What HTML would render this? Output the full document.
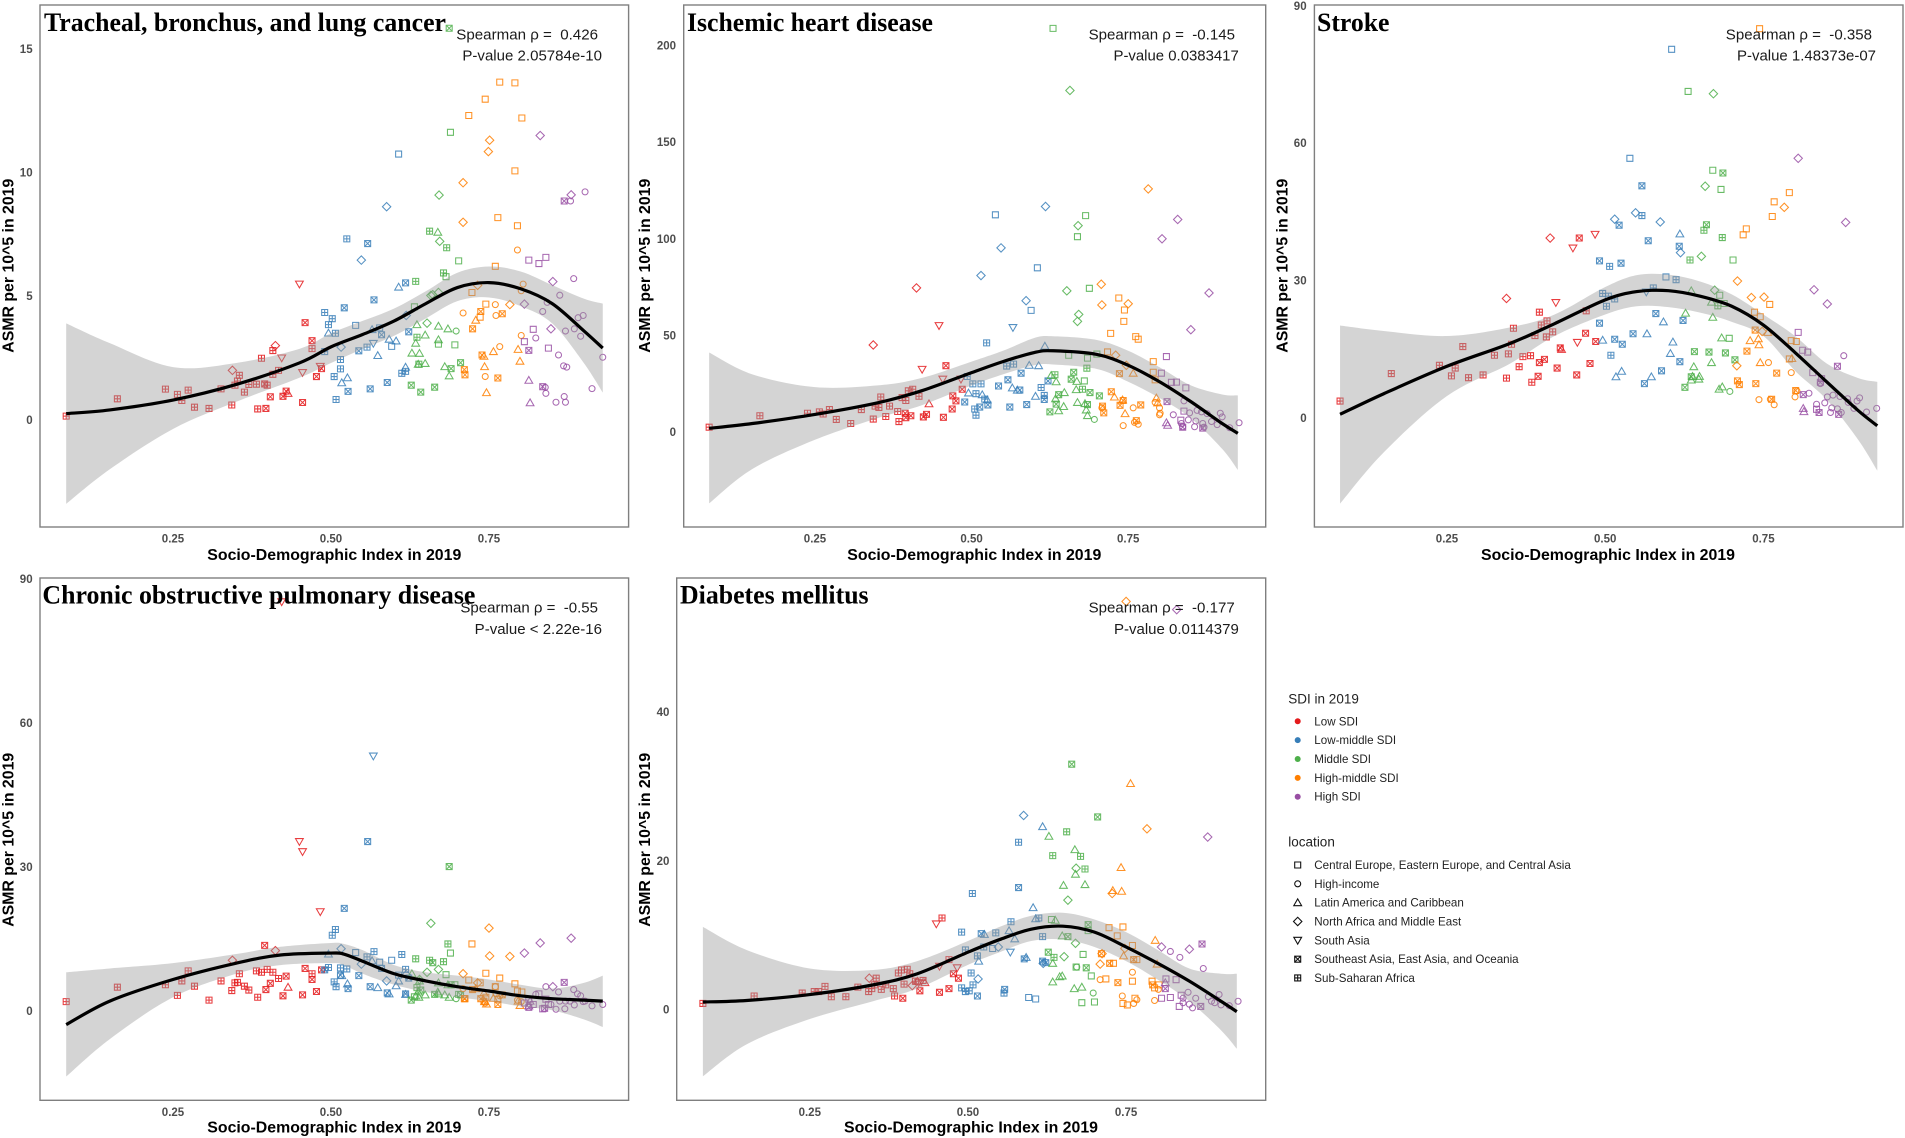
<!DOCTYPE html>
<html lang="en">
<head>
<meta charset="utf-8">
<title>ASMR versus Socio-Demographic Index in 2019</title>
<style>
html,body{margin:0;padding:0;background:#fff;width:1905px;height:1138px;overflow:hidden}
svg{display:block}
text{font-family:"Liberation Sans",Arial,sans-serif}
.title{font-family:"Liberation Serif","Times New Roman",serif;font-weight:bold;font-size:26px;fill:#000}
.ann{font-size:14.5px;fill:#1a1a1a;white-space:pre}
.tick{font-size:11.5px;font-weight:bold;fill:#4d4d4d}
.axis{font-size:15.5px;font-weight:bold;fill:#000}
.lt{font-size:13.5px;fill:#222}
.li{font-size:11.6px;fill:#222}
</style>
</head>
<body>
<svg id="chart" xmlns="http://www.w3.org/2000/svg" width="1905" height="1138" viewBox="0 0 1905 1138"></svg>
<script>
const S="s",C="c",T="t",D="d",V="v",X="x",P="p";
const xTickValues=[0.25,0.5,0.75];
const xTickLabels=["0.25","0.50","0.75"];
const sdiLevels=["Low SDI","Low-middle SDI","Middle SDI","High-middle SDI","High SDI"];
const locations=["Central Europe, Eastern Europe, and Central Asia","High-income","Latin America and Caribbean","North Africa and Middle East","South Asia","Southeast Asia, East Asia, and Oceania","Sub-Saharan Africa"];
const locationShapes=[S,C,T,D,V,X,P];

/* ---- Tracheal, bronchus, and lung cancer ---- */
const lungYTicks=[0,5,10,15];
const lungCurveX=[.081,.15,.25,.35,.45,.5,.55,.6,.65,.7,.75,.8,.85,.9,.93];
const lungFit=[.25,.4,.8,1.43,2.3,2.95,3.45,4,4.7,5.35,5.55,5.3,4.7,3.6,2.9];
const lungUpper=[3.9,3.1,2.13,2.3,2.87,3.5,4,4.5,5.2,5.95,6.2,6,5.45,4.9,4.7];
const lungLower=[-3.4,-2,-.37,.73,1.7,2.3,2.87,3.4,4.1,4.8,4.95,4.6,3.9,2.3,1.1];
const lungLow=[[P,.081,.15],[P,.162,.85],[P,.238,1.24],[P,.257,1.03],[P,.264,.78],[P,.274,1.2],[P,.284,.51],[P,.307,.46],[P,.326,1.25],[P,.343,.6],[P,.348,1.4],[P,.352,1.57],[P,.355,1.8],[P,.363,1.12],[P,.37,1.43],[P,.382,1.44],[P,.384,.44],[P,.39,2.49],[X,.395,1.45],[X,.397,.46],[P,.399,1.4],[X,.404,.93],[P,.408,1.84],[P,.408,2.8],[P,.417,2],[X,.424,.95],[X,.429,1.16],[X,.455,.7],[X,.459,3.93],[X,.47,3.2],[P,.47,2.88],[X,.477,1.75],[X,.485,2.07],[T,.432,1.07],[D,.344,2],[D,.412,3],[V,.45,5.49],[V,.422,2.5],[V,.455,1.91],[V,.483,2.16]];
const lungLowMid=[[P,.49,4.34],[P,.496,3.85],[P,.502,4.09],[P,.507,3.5],[P,.49,2.76],[P,.505,1.75],[P,.508,.82],[P,.515,2.06],[P,.515,2.44],[X,.521,4.53],[P,.525,7.32],[X,.527,1.15],[X,.544,2.79],[P,.557,2.94],[X,.558,7.13],[X,.562,1.25],[X,.568,4.85],[X,.58,3.44],[X,.589,1.51],[P,.612,1.88],[P,.618,1.96],[X,.618,5.54],[X,.623,3.56],[T,.496,3.51],[T,.517,1.5],[T,.526,1.7],[T,.565,3.65],[T,.574,2.6],[T,.592,3.26],[T,.603,3.19],[T,.607,5.37],[T,.618,2.13],[S,.539,3.82],[S,.577,3.72],[S,.596,2.97],[S,.607,10.75],[D,.516,2.94],[D,.548,6.46],[D,.588,8.62],[D,.619,4.22],[V,.567,3.09]];
const lungMid=[[X,.627,1.4],[P,.634,5.6],[P,.636,3.34],[P,.639,2.25],[X,.642,1.12],[P,.656,7.63],[X,.664,1.32],[P,.678,5.94],[P,.683,6.96],[X,.687,15.84],[X,.69,2.07],[X,.705,2.31],[T,.628,2.7],[T,.634,3.1],[T,.636,3.85],[T,.64,2.69],[T,.638,2.25],[T,.649,2.28],[T,.649,3.43],[T,.669,7.59],[T,.67,3.79],[T,.67,3.24],[T,.685,3.68],[T,.68,2.15],[T,.687,1.78],[S,.632,4.57],[S,.67,3.06],[S,.682,5.79],[S,.689,11.63],[S,.696,3.03],[S,.702,6.43],[D,.652,3.91],[D,.658,5.03],[D,.661,5.06],[D,.67,5.15],[D,.672,7.22],[D,.671,9.09],[C,.698,3.59]];
const lungHighMid=[[S,.718,12.31],[S,.723,5.15],[S,.736,4.15],[S,.745,4.68],[S,.744,12.97],[S,.76,6.21],[S,.764,8.18],[S,.767,13.66],[S,.791,13.63],[S,.791,10.07],[S,.795,7.85],[S,.802,12.21],[X,.711,2.03],[X,.712,1.82],[X,.724,3.68],[X,.737,4.38],[X,.739,2.62],[X,.764,1.69],[X,.771,4.29],[C,.709,4.32],[C,.744,1.75],[C,.76,4.66],[C,.761,4.22],[C,.767,2.96],[C,.795,6.87],[C,.801,5.22],[C,.804,5.49],[C,.801,3.41],[T,.729,4.03],[T,.742,2.57],[T,.743,2.15],[T,.746,1.1],[T,.757,2.76],[T,.796,2.85],[T,.799,2.37],[D,.709,9.59],[D,.709,7.99],[D,.732,5.44],[D,.749,10.85],[D,.751,11.31],[D,.783,4.66]];
const lungHigh=[[S,.806,3.16],[S,.813,6.46],[S,.82,3.66],[S,.829,6.32],[S,.84,6.57],[S,.844,2.9],[X,.813,2.81],[X,.869,8.85],[X,.835,1.34],[T,.813,1.6],[T,.815,.69],[D,.806,4.68],[D,.831,11.5],[D,.848,3.68],[D,.851,5.59],[D,.88,9.1],[C,.824,3.31],[C,.835,4.38],[C,.84,1.07],[C,.839,1.31],[C,.842,4.75],[C,.856,.71],[C,.86,2.62],[C,.862,5.04],[C,.868,2.18],[C,.869,.94],[C,.871,.71],[C,.871,3.59],[C,.873,2.13],[C,.879,8.85],[C,.884,5.71],[C,.885,3.68],[C,.891,4.13],[C,.895,3.38],[C,.899,4.22],[C,.902,9.22],[C,.913,1.26],[C,.93,2.53]];

/* ---- Ischemic heart disease ---- */
const ihdYTicks=[0,50,100,150,200];
const ihdCurveX=[.081,.15,.25,.35,.42,.5,.55,.6,.63,.7,.75,.8,.85,.9,.925];
const ihdFit=[2,4.5,9.2,15.2,21.4,30.8,36.5,41.2,42.1,40.2,34.6,26.1,15.8,4.5,-.6];
const ihdUpper=[41.2,29.9,23.3,24.2,28,36.5,42.1,48.7,49.6,47.7,42.1,33.6,24.2,19.5,19];
const ihdLower=[-36.8,-19,-3.9,7.3,13.9,24.2,29.9,34.6,35,32.7,26.1,17.7,7.3,-8.6,-19.5];
const ihdLow=[[P,.081,2.6],[P,.162,8.5],[P,.238,9.8],[P,.257,10.5],[P,.263,9.4],[P,.273,11.7],[P,.284,6.6],[P,.307,4.5],[P,.324,11.7],[P,.343,6.8],[P,.346,13.5],[P,.352,12.8],[P,.355,18.2],[P,.363,8.1],[P,.369,13.5],[P,.382,10.7],[P,.384,5.5],[P,.389,17.9],[X,.394,9.8],[X,.395,7.5],[P,.395,16.4],[P,.399,21.4],[X,.403,8.5],[P,.406,22.2],[P,.416,18.6],[X,.423,7.9],[X,.428,9.2],[X,.455,7.7],[X,.459,34.4],[X,.47,18.8],[X,.469,12],[X,.475,16.2],[X,.485,22.2],[T,.432,14.7],[D,.343,45.1],[D,.412,74.6],[V,.448,55.1],[V,.421,32.5],[V,.454,27.4],[V,.483,27.4]];
const ihdLowMid=[[X,.489,15.6],[P,.493,28.8],[P,.502,25],[P,.505,12],[P,.507,19.9],[P,.507,8.8],[X,.513,13],[P,.515,25],[P,.521,17.1],[P,.524,46.2],[X,.526,14.1],[X,.543,23.9],[P,.556,34.2],[X,.558,27.1],[X,.561,13],[P,.567,35.2],[X,.577,21.8],[X,.579,30.5],[X,.588,14.3],[P,.611,23.1],[P,.616,19],[X,.616,16.9],[X,.622,26.5],[T,.495,20.3],[T,.517,19.4],[T,.525,16.7],[T,.565,22.9],[T,.573,21.8],[T,.592,34.6],[T,.602,18.6],[T,.607,34.4],[T,.617,44.5],[S,.538,112.4],[S,.595,63],[S,.605,85],[D,.515,81],[D,.547,95.3],[D,.587,68],[D,.618,116.7],[V,.566,54.1]];
const ihdMid=[[X,.625,10.5],[P,.633,29.7],[X,.635,14.5],[X,.639,19.4],[X,.659,27.4],[X,.663,31],[P,.677,22.2],[P,.684,33.1],[X,.685,14.3],[X,.689,20.5],[X,.704,18.8],[S,.63,208.8],[T,.627,29.3],[T,.634,17.3],[T,.635,26.1],[T,.639,11.1],[T,.647,13.3],[T,.648,20.5],[T,.667,22],[T,.669,15.4],[T,.668,26.3],[T,.681,14.8],[T,.683,11.5],[T,.685,8.6],[S,.669,101.1],[S,.68,26.5],[S,.682,112],[S,.688,74.4],[S,.655,39.8],[S,.685,38.3],[S,.7,40.4],[D,.652,73.1],[D,.67,106.8],[D,.671,60.9],[D,.669,57.3],[D,.657,176.7],[C,.696,6.6]];
const ihdHighMid=[[S,.717,41.5],[S,.722,51.1],[S,.735,69.4],[S,.744,63.2],[S,.743,57.3],[S,.762,49.4],[S,.766,48.1],[S,.79,36.5],[S,.79,31],[S,.793,27.1],[X,.709,13.5],[X,.711,10],[X,.723,20.9],[X,.736,30.3],[X,.737,13.9],[X,.742,16.4],[X,.763,6],[X,.77,14.1],[C,.708,12.6],[C,.742,3.4],[C,.758,12.6],[C,.76,5.1],[C,.766,4.1],[C,.793,15.4],[C,.8,12.6],[C,.8,9],[C,.801,9.8],[T,.728,18.2],[T,.741,16.7],[T,.745,9.6],[T,.758,30.5],[T,.795,17.7],[T,.797,15.2],[D,.707,76.5],[D,.708,65.8],[D,.73,39.8],[D,.747,34.6],[D,.75,66.4],[D,.782,125.8]];
const ihdHigh=[[S,.803,30.5],[S,.811,39.1],[S,.819,25.8],[S,.827,25.9],[S,.842,22.9],[S,.839,10.9],[S,.834,6.2],[X,.812,15.8],[X,.837,2.6],[X,.869,2.1],[T,.811,4.9],[T,.813,3.6],[D,.804,100],[D,.829,110],[D,.85,53],[D,.879,72],[C,.822,9],[C,.839,16.2],[C,.846,6.4],[C,.848,10],[C,.856,2.8],[C,.858,5.8],[C,.86,11.3],[C,.867,10.5],[C,.869,4.5],[C,.871,2.6],[C,.876,9.6],[C,.883,5.5],[C,.892,3.9],[C,.897,9.8],[C,.9,7.9],[C,.912,2.3],[C,.927,4.9],[C,.835,4.5],[C,.837,2.8]];

/* ---- Stroke ---- */
const strokeYTicks=[0,30,60,90];
const strokeCurveX=[.081,.15,.25,.35,.42,.5,.55,.6,.65,.7,.75,.8,.85,.9,.93];
const strokeFit=[.8,5.3,11.3,16.3,20.6,25.8,27.6,27.8,26.6,24.4,20.3,14.3,7.9,1.6,-1.7];
const strokeUpper=[20.2,19,17.9,19.8,22.6,28.6,31.2,31.3,29.8,27,22.6,17.9,11.9,8.7,7.9];
const strokeLower=[-18.7,-7.5,4.8,11.9,17.9,22.6,24.4,24.2,23,21,17.9,10.3,4,-4.8,-11.5];
const strokeLow=[[P,.081,3.7],[P,.162,9.7],[P,.238,11.5],[P,.257,9.2],[P,.263,10.9],[P,.275,15.6],[P,.284,8.8],[P,.307,9.4],[P,.325,13.7],[P,.344,8.7],[P,.347,14],[P,.352,16.1],[P,.355,19.6],[P,.364,11.2],[P,.37,13.4],[P,.382,13.6],[P,.384,7.8],[P,.389,18],[X,.394,9.1],[P,.396,23.1],[X,.396,12.1],[P,.399,20.3],[X,.404,12.8],[P,.408,21.2],[P,.407,17.7],[P,.417,18.8],[X,.424,10.9],[X,.429,15.3],[X,.455,9.4],[X,.459,39.3],[X,.469,18.5],[P,.47,23.4],[X,.476,11.9],[X,.485,16.7],[T,.431,15],[D,.344,26.1],[D,.413,39.3],[V,.449,37.1],[V,.484,40.1],[V,.422,25.2],[V,.456,16.5]];
const strokeLowMid=[[X,.491,20.7],[X,.491,34.3],[P,.496,27.2],[P,.502,24.4],[P,.507,33.1],[P,.505,26.6],[P,.509,13.7],[P,.515,26],[X,.515,17.2],[X,.522,42.1],[X,.525,33.8],[X,.527,16.1],[X,.544,18.4],[P,.558,44.2],[X,.558,50.7],[X,.562,7.5],[X,.568,38.7],[P,.576,28.4],[X,.58,22.8],[X,.589,10.3],[P,.612,30.2],[X,.617,37.5],[X,.618,12.3],[X,.623,21.3],[T,.496,17],[T,.517,9],[T,.526,10.2],[T,.566,18.4],[T,.573,9],[T,.592,21],[T,.603,14.1],[T,.607,16.6],[T,.618,40.2],[S,.539,56.7],[S,.596,30.8],[S,.605,80.5],[D,.515,43.4],[D,.548,44.8],[D,.587,42.8],[D,.619,36.1],[V,.565,27.5]];
const strokeMid=[[X,.626,6.7],[P,.634,34.5],[X,.641,14.5],[X,.636,9],[P,.656,41],[X,.66,42.2],[X,.664,14.4],[P,.678,24.5],[P,.685,39.4],[X,.686,53.5],[X,.69,14.2],[X,.705,12.7],[T,.627,22.9],[T,.636,8.3],[T,.636,27.8],[T,.64,11.2],[T,.638,9.1],[T,.648,8.5],[T,.649,9.1],[T,.668,25.3],[T,.67,22],[T,.668,12.1],[T,.68,6.3],[T,.684,17.5],[T,.685,6.8],[S,.631,71.3],[S,.67,54.1],[S,.681,26.8],[S,.683,49.9],[S,.688,25],[S,.696,17.4],[S,.702,34.5],[D,.652,35.3],[D,.658,50.6],[D,.671,70.8],[D,.673,27.9],[C,.697,5.8]];
const strokeHighMid=[[S,.718,40],[S,.723,41.3],[S,.736,23.1],[S,.745,22.1],[S,.744,85],[S,.76,24.8],[S,.764,44],[S,.767,47.2],[S,.791,49.2],[S,.791,12.9],[S,.794,16.9],[S,.802,16.7],[X,.709,8.1],[X,.712,7.3],[X,.724,14.6],[X,.737,19.2],[X,.738,7.5],[X,.763,4.1],[X,.771,9.8],[X,.801,6],[C,.743,4],[C,.758,12.1],[C,.761,4.1],[C,.767,2.9],[C,.794,9.9],[C,.8,4.6],[C,.803,5.9],[T,.729,16.9],[T,.742,17.3],[T,.743,16],[T,.745,12.1],[T,.757,18.7],[T,.795,13],[D,.709,29.9],[D,.708,11.4],[D,.731,26.3],[D,.748,18.9],[D,.751,26.4],[D,.783,46]];
const strokeHigh=[[S,.805,18.7],[S,.812,14.8],[S,.82,14.4],[S,.828,9.9],[S,.842,8.6],[S,.834,1.9],[X,.813,5.1],[X,.867,11.3],[X,.84,7.8],[X,.838,1.2],[X,.869,.8],[T,.813,2.1],[T,.814,1.4],[D,.805,56.7],[D,.83,28],[D,.851,24.9],[D,.88,42.7],[C,.822,5.4],[C,.834,3],[C,.84,7.5],[C,.847,3.3],[C,.851,4.6],[C,.856,1.2],[C,.858,2.2],[C,.86,5],[C,.867,2],[C,.871,4.7],[C,.873,1.2],[C,.877,13.6],[C,.883,4.2],[C,.884,3.4],[C,.893,2.1],[C,.898,3.7],[C,.902,4.4],[C,.913,1.3],[C,.929,2.1]];

/* ---- Chronic obstructive pulmonary disease ---- */
const copdYTicks=[0,30,60,90];
const copdCurveX=[.081,.15,.25,.35,.42,.5,.52,.55,.6,.65,.7,.75,.8,.85,.9,.93];
const copdFit=[-2.8,2.1,6.6,10,11.7,12.1,11.9,10.4,7.8,6.3,5.1,4.2,3.2,2.6,2.3,2.1];
const copdUpper=[8.1,8.9,10,11.9,13.4,14.2,14,12.7,9.6,8.1,7.4,6.6,5.5,4.7,5.9,7.4];
const copdLower=[-13.6,-5.8,2.9,7.8,9.6,10,9.6,7.8,5.5,4,2.9,2.1,1,.2,-1.7,-3.3];
const copdLow=[[P,.081,2],[P,.162,5],[P,.238,5.5],[P,.257,3.3],[P,.264,6.3],[P,.274,8.4],[P,.284,5.2],[P,.307,2.3],[P,.326,6.3],[P,.343,4.3],[P,.348,5.9],[P,.352,6],[P,.355,7.8],[P,.363,5.2],[P,.37,4.4],[P,.382,8.4],[P,.384,2.9],[P,.39,8.1],[X,.395,13.7],[X,.397,4.5],[P,.399,8.7],[X,.404,5.8],[P,.408,8.1],[P,.417,6.8],[X,.424,3.2],[X,.429,7.3],[X,.455,3.4],[X,.459,8.9],[X,.47,6.6],[P,.47,7.8],[X,.477,4.1],[X,.485,8.6],[T,.432,5],[D,.344,10.6],[D,.412,12.6],[V,.45,35.3],[V,.455,33.2],[V,.483,20.7],[V,.422,85.2]];
const copdLowMid=[[X,.49,8.6],[P,.496,9.1],[P,.502,15.8],[P,.507,17],[P,.505,6.1],[P,.508,5.1],[X,.515,7.5],[P,.515,9],[X,.521,21.4],[P,.525,8.8],[X,.527,4.7],[X,.544,7.4],[P,.557,11.3],[X,.558,35.3],[X,.562,5.1],[P,.568,12.4],[X,.58,8.9],[X,.589,3.8],[P,.612,11.8],[P,.618,8.7],[X,.618,3.6],[X,.623,6.9],[T,.496,11.9],[T,.517,7.4],[T,.526,5.7],[T,.565,10.5],[T,.574,4.9],[T,.592,3.6],[T,.603,5.3],[T,.607,6.3],[T,.618,3.5],[S,.539,12.2],[S,.577,10.2],[S,.596,10.6],[S,.607,7.5],[D,.516,13],[D,.548,9.8],[D,.588,6.3],[D,.619,7.6],[V,.567,53.1]];
const copdMid=[[X,.627,2.3],[P,.634,10.9],[P,.636,4.9],[X,.642,4.4],[P,.656,10.6],[X,.661,10.1],[X,.664,3.5],[P,.678,10.3],[P,.685,14],[X,.687,30.1],[X,.69,5.5],[X,.705,3.4],[T,.628,7.8],[T,.634,3.2],[T,.638,4],[T,.64,6.3],[T,.639,2.9],[T,.649,3.4],[T,.669,4],[T,.67,5.9],[T,.685,5.5],[T,.68,3.4],[T,.687,2.9],[T,.67,3.6],[S,.632,3],[S,.682,7.6],[S,.689,12.1],[S,.696,5.5],[S,.702,3.5],[D,.652,8.1],[D,.658,18.3],[D,.67,8.7],[D,.64,6.6],[C,.698,2.6]];
const copdHighMid=[[S,.723,14],[S,.736,5.9],[S,.745,7.9],[S,.76,5.1],[S,.767,6.9],[S,.791,5.7],[S,.795,4.2],[S,.802,4],[S,.718,6.5],[S,.745,2.9],[S,.764,2.5],[X,.711,2.6],[X,.712,2.6],[X,.724,4.5],[X,.737,2.6],[X,.742,2.1],[X,.764,1.4],[X,.771,3.4],[C,.709,4.7],[C,.744,1.7],[C,.76,5.1],[C,.761,3.6],[C,.767,3.2],[C,.795,2.3],[C,.801,2],[T,.729,4.7],[T,.742,3.8],[T,.743,2],[T,.746,1.5],[T,.757,2.7],[T,.796,2.1],[T,.799,1.2],[D,.709,7.8],[D,.75,17.3],[D,.751,11.5],[D,.783,11.4],[D,.732,5.9]];
const copdHigh=[[S,.806,1.7],[S,.813,2.5],[S,.82,1.4],[S,.829,3.6],[S,.84,2.5],[S,.844,1.4],[S,.835,.5],[X,.813,.8],[X,.869,6],[X,.838,.6],[T,.813,1.1],[T,.815,2.1],[D,.806,12.1],[D,.831,14.2],[D,.851,5.1],[D,.88,15.2],[C,.824,3.5],[C,.84,5.1],[C,.848,1.4],[C,.856,.4],[C,.86,4],[C,.862,2.1],[C,.87,.5],[C,.871,2.1],[C,.884,4.5],[C,.89,3.6],[C,.895,3.2],[C,.899,2],[C,.902,2.1],[C,.913,1.1],[C,.93,1.4],[C,.878,2.1],[C,.885,1.3]];

/* ---- Diabetes mellitus ---- */
const diabetesYTicks=[0,20,40];
const diabetesCurveX=[.081,.15,.25,.35,.42,.5,.55,.6,.65,.7,.75,.8,.85,.9,.925];
const diabetesFit=[1,1.2,2,3.3,4.8,7.7,9.4,10.8,11.2,10.4,8.4,6.2,3.8,1.1,-.3];
const diabetesUpper=[11.1,8,5.5,5.3,6.5,9.2,11.1,12.6,13,12.1,10.4,8,5.5,4.8,4.8];
const diabetesLower=[-9,-4.7,-1.3,1.1,2.8,6,7.7,9.2,9.4,8.4,6.5,4,1.1,-2.8,-5.3];
const diabetesLow=[[P,.081,.8],[P,.162,1.8],[P,.238,2.2],[P,.257,2.4],[P,.264,2.4],[P,.274,3.1],[P,.284,1.7],[P,.307,1.7],[P,.326,3],[P,.343,2.4],[P,.348,2.8],[P,.352,3.3],[P,.355,4.2],[P,.363,2.7],[P,.37,3.3],[P,.382,2.8],[P,.384,1.8],[P,.39,4.9],[P,.395,5.3],[X,.397,1.5],[P,.399,3.4],[P,.404,5.4],[P,.408,4.8],[P,.417,3.8],[X,.424,2.5],[P,.429,3.9],[X,.455,2.3],[P,.459,12.3],[X,.47,2.8],[P,.47,6.7],[X,.477,4.8],[X,.485,4.2],[T,.432,3.6],[T,.42,3.8],[D,.344,4.2],[D,.412,3.2],[V,.45,11.5],[V,.483,5.6],[V,.455,5.8],[V,.422,3.6]];
const diabetesLowMid=[[P,.49,10.4],[P,.496,8],[P,.502,2.5],[P,.507,15.6],[P,.505,4.9],[P,.508,3.3],[X,.515,1.8],[P,.515,7.2],[X,.521,10.2],[P,.525,8.4],[P,.544,10.3],[P,.557,2.2],[X,.558,2.7],[P,.568,11.8],[P,.58,22.5],[X,.58,16.4],[X,.589,6.8],[P,.612,12.3],[P,.618,9.8],[X,.618,6.5],[X,.623,6.3],[P,.49,2.9],[P,.496,2.4],[T,.517,6.5],[T,.526,10.1],[T,.565,10.6],[T,.574,9.5],[T,.592,7],[T,.603,13.7],[T,.607,12.2],[T,.618,24.6],[S,.539,8.2],[S,.596,1.6],[S,.607,1.4],[D,.516,4.1],[D,.548,8.4],[D,.588,26.1],[D,.619,6.2],[V,.567,7.7]];
const diabetesMid=[[X,.627,7.7],[P,.634,20.7],[P,.636,7],[P,.656,23.9],[X,.658,9.8],[X,.664,33],[P,.678,20.6],[P,.685,18.9],[X,.687,5.6],[X,.69,11.4],[X,.705,25.9],[T,.628,23.3],[T,.634,3.7],[T,.638,12],[T,.645,4.4],[T,.649,4.5],[T,.651,16.7],[T,.649,9.9],[T,.669,21.5],[T,.67,18.2],[T,.668,2.8],[T,.685,16.8],[T,.68,3],[T,.634,6.2],[S,.632,12.1],[S,.69,10.6],[S,.682,7.4],[S,.695,4.5],[S,.7,1],[S,.68,.9],[S,.671,5.7],[D,.652,7.1],[D,.658,14.7],[D,.67,8.9],[D,.671,19],[C,.698,2.2],[C,.672,5.7]];
const diabetesHighMid=[[S,.723,11],[S,.736,9.9],[S,.745,11.1],[S,.76,8.6],[S,.767,6.7],[S,.791,3.8],[S,.795,2.9],[S,.802,3.3],[S,.718,4.1],[S,.745,.8],[S,.752,.6],[S,.764,1.5],[S,.76,3.8],[S,.73,6.2],[X,.711,7.5],[X,.724,6.2],[X,.737,3.6],[X,.762,6.7],[X,.792,3.3],[C,.709,4],[C,.744,1.8],[C,.76,5],[C,.762,.8],[C,.767,1.3],[C,.795,1.2],[C,.801,2.7],[T,.729,16],[T,.742,19.1],[T,.743,15.9],[T,.746,7.2],[T,.757,30.4],[T,.796,9.3],[T,.799,6.1],[D,.709,6.1],[D,.712,7.5],[D,.728,15.6],[D,.75,54.9],[D,.748,8.2],[D,.783,24.3]];
const diabetesHigh=[[S,.806,1.5],[S,.813,4.1],[S,.82,1.6],[S,.829,4],[S,.837,1.9],[S,.834,.4],[X,.812,2.8],[X,.87,8.8],[X,.868,.4],[T,.812,3.6],[D,.806,8.4],[D,.85,8.1],[D,.879,23.2],[D,.83,53.8],[C,.82,7.8],[C,.835,7],[C,.84,1.5],[C,.848,2.3],[C,.85,.7],[C,.855,.2],[C,.86,1.5],[C,.872,5.5],[C,.88,1.7],[C,.885,1.1],[C,.89,.9],[C,.897,2],[C,.9,.6],[C,.913,.5],[C,.927,1.1],[C,.84,.9]];

const sdiColors=["#E41A1C","#377EB8","#4DAF4A","#FF7F00","#984EA3"];
const glyphs={
 s:"M-3,-3h6v6h-6z",
 c:"M-3,0a3,3 0 1,0 6,0a3,3 0 1,0 -6,0z",
 t:"M0,-3.8L3.9,3L-3.9,3Z",
 d:"M0,-4.2L4.2,0L0,4.2L-4.2,0Z",
 v:"M0,3.8L-3.9,-3L3.9,-3Z",
 x:"M-3,-3h6v6h-6zM-3,-3L3,3M3,-3L-3,3",
 p:"M-3,-3h6v6h-6zM0,-3V3M-3,0H3"
};
const NS="http://www.w3.org/2000/svg";
const root=document.getElementById("chart");
function el(tag,parent,attrs){
  const n=document.createElementNS(NS,tag);
  for(const k in attrs)n.setAttribute(k,attrs[k]);
  parent.appendChild(n);
  return n;
}
function label(parent,cls,x,y,str,anchor,len,rot){
  const attrs={class:cls,x:x,y:y,"text-anchor":anchor||"start"};
  if(len){attrs.textLength=len;attrs.lengthAdjust="spacingAndGlyphs";}
  if(rot)attrs.transform="rotate(-90 "+x+" "+y+")";
  const t=el("text",parent,attrs);
  t.textContent=str;
  return t;
}
function smooth(pts,move){
  let d=(move?"M":"L")+pts[0][0].toFixed(2)+","+pts[0][1].toFixed(2);
  for(let i=0;i<pts.length-1;i++){
    const a=pts[Math.max(i-1,0)],b=pts[i],c=pts[i+1],e=pts[Math.min(i+2,pts.length-1)];
    const c1x=b[0]+(c[0]-a[0])/6,c1y=b[1]+(c[1]-a[1])/6,c2x=c[0]-(e[0]-b[0])/6,c2y=c[1]-(e[1]-b[1])/6;
    d+="C"+c1x.toFixed(2)+","+c1y.toFixed(2)+" "+c2x.toFixed(2)+","+c2y.toFixed(2)+" "+c[0].toFixed(2)+","+c[1].toFixed(2);
  }
  return d;
}
function drawPanel(cfg){
  const g=el("g",root,{});
  
  
  const xs=v=>cfg.x025+(v-.25)*cfg.xUnit;
  const ys=v=>cfg.y0-v*cfg.yUnit;
  const frame=el("rect",g,{x:cfg.l,y:cfg.t,width:cfg.r-cfg.l,height:cfg.b-cfg.t,fill:"none",stroke:"#7f7f7f","stroke-width":1.4});
  
  
  cfg.series.forEach((arr,si)=>{
    arr.forEach(pt=>{
      const m=el("path",g,{d:glyphs[pt[0]],transform:"translate("+xs(pt[1]).toFixed(2)+" "+ys(pt[2]).toFixed(2)+")",fill:"none",stroke:sdiColors[si],"stroke-width":1.05,"stroke-opacity":.85});
      
      
    });
  });
  const up=cfg.curveX.map((v,i)=>[xs(v),ys(cfg.upper[i])]);
  const lo=cfg.curveX.map((v,i)=>[xs(v),ys(cfg.lower[i])]).reverse();
  const band=el("path",g,{d:smooth(up,true)+smooth(lo,false)+"Z",fill:"#999999","fill-opacity":.42});
  
  
  const line=el("path",g,{d:smooth(cfg.curveX.map((v,i)=>[xs(v),ys(cfg.fit[i])]),true),fill:"none",stroke:"#000","stroke-width":3.2,"stroke-linejoin":"round"});
  
  
  xTickValues.forEach((v,i)=>{
    const t=label(g,"tick",xs(v),cfg.xTickY,xTickLabels[i],"middle");
    
    
  });
  cfg.yTicks.forEach(v=>{
    const t=label(g,"tick",cfg.yTickX,ys(v)+4,String(v),"end");
    
    
  });
  const xt=label(g,"axis",cfg.xTitleX,cfg.xTitleY,"Socio-Demographic Index in 2019","middle",254);
  
  
  const yt=label(g,"axis",cfg.yTitleX,cfg.yTitleY,"ASMR per 10^5 in 2019","middle",174,true);
  
  
  const ti=label(g,"title",cfg.titleX,cfg.titleY,cfg.title,"start",cfg.titleW);
  
  
  const a1=label(g,"ann",cfg.a1x,cfg.a1y,cfg.a1,"start",cfg.a1w);
  
  
  const a2=label(g,"ann",cfg.a2x,cfg.a2y,cfg.a2,"start",cfg.a2w);
  
  
}
drawPanel({name:"lung-cancer",title:"Tracheal, bronchus, and lung cancer",titleX:44,titleY:31,titleW:402,
 l:40,r:628.6,t:5,b:527,x025:173,xUnit:632,y0:419.8,yUnit:24.72,yTicks:lungYTicks,xTickY:542.7,yTickX:32.6,
 xTitleX:334.3,xTitleY:559.8,yTitleX:13.5,yTitleY:265.7,
 a1:"Spearman ρ =  0.426",a1x:456.3,a1y:39.3,a1w:141.7,a2:"P-value 2.05784e-10",a2x:462.4,a2y:60.3,a2w:139.6,
 curveX:lungCurveX,fit:lungFit,upper:lungUpper,lower:lungLower,series:[lungLow,lungLowMid,lungMid,lungHighMid,lungHigh]});
drawPanel({name:"ischemic-heart-disease",title:"Ischemic heart disease",titleX:687,titleY:31,titleW:246,
 l:683.7,r:1265.7,t:5,b:527,x025:815,xUnit:626.4,y0:432.2,yUnit:1.934,yTicks:ihdYTicks,xTickY:542.7,yTickX:676,
 xTitleX:974.3,xTitleY:559.8,yTitleX:649.8,yTitleY:265.7,
 a1:"Spearman ρ =  -0.145",a1x:1088.6,a1y:39.3,a1w:146.4,a2:"P-value 0.0383417",a2x:1113.5,a2y:60.3,a2w:125.3,
 curveX:ihdCurveX,fit:ihdFit,upper:ihdUpper,lower:ihdLower,series:[ihdLow,ihdLowMid,ihdMid,ihdHighMid,ihdHigh]});
drawPanel({name:"stroke",title:"Stroke",titleX:1317,titleY:31,titleW:72.5,
 l:1314.4,r:1903,t:5,b:527,x025:1447,xUnit:632.8,y0:418,yUnit:4.58,yTicks:strokeYTicks,xTickY:542.7,yTickX:1306.6,
 xTitleX:1608,xTitleY:559.8,yTitleX:1287.4,yTitleY:265.7,
 a1:"Spearman ρ =  -0.358",a1x:1725.8,a1y:39.3,a1w:146.2,a2:"P-value 1.48373e-07",a2x:1737,a2y:60.3,a2w:139,
 curveX:strokeCurveX,fit:strokeFit,upper:strokeUpper,lower:strokeLower,series:[strokeLow,strokeLowMid,strokeMid,strokeHighMid,strokeHigh]});
drawPanel({name:"copd",title:"Chronic obstructive pulmonary disease",titleX:42.4,titleY:603.7,titleW:433,
 l:40,r:628.6,t:578,b:1100.3,x025:173,xUnit:632,y0:1011.2,yUnit:4.805,yTicks:copdYTicks,xTickY:1115.8,yTickX:32.6,
 xTitleX:334.3,xTitleY:1132.5,yTitleX:13.5,yTitleY:839.8,
 a1:"Spearman ρ =  -0.55",a1x:460.4,a1y:612.7,a1w:137.6,a2:"P-value < 2.22e-16",a2x:474.7,a2y:634,a2w:127.3,
 curveX:copdCurveX,fit:copdFit,upper:copdUpper,lower:copdLower,series:[copdLow,copdLowMid,copdMid,copdHighMid,copdHigh]});
drawPanel({name:"diabetes",title:"Diabetes mellitus",titleX:680,titleY:603.7,titleW:188.6,
 l:676.7,r:1265.7,t:578,b:1100.3,x025:809.8,xUnit:632.6,y0:1009.4,yUnit:7.43,yTicks:diabetesYTicks,xTickY:1115.8,yTickX:669.4,
 xTitleX:971,xTitleY:1132.5,yTitleX:649.8,yTitleY:839.8,
 a1:"Spearman ρ =  -0.177",a1x:1088.6,a1y:612.7,a1w:146.1,a2:"P-value 0.0114379",a2x:1114,a2y:634,a2w:124.8,
 curveX:diabetesCurveX,fit:diabetesFit,upper:diabetesUpper,lower:diabetesLower,series:[diabetesLow,diabetesLowMid,diabetesMid,diabetesHighMid,diabetesHigh]});

/* legends */
const legend=el("g",root,{});


const sdiTitle=label(legend,"lt",1288.3,703.3,"SDI in 2019");


sdiLevels.forEach((s,i)=>{
  const cy=721.3+i*18.85;
  const dot=el("circle",legend,{cx:1297.7,cy:cy,r:3,fill:sdiColors[i]});
  
  
  const t=label(legend,"li",1314.3,cy+4,s);
  
  
});
const locTitle=label(legend,"lt",1288.3,846.7,"location");


locations.forEach((s,i)=>{
  const cy=865+i*18.83;
  const m=el("path",legend,{d:glyphs[locationShapes[i]],transform:"translate(1297.7 "+cy+")",fill:"none",stroke:"#111","stroke-width":1.1});
  
  
  const t=label(legend,"li",1314.3,cy+4,s);
  
  
});
</script>
</body>
</html>
